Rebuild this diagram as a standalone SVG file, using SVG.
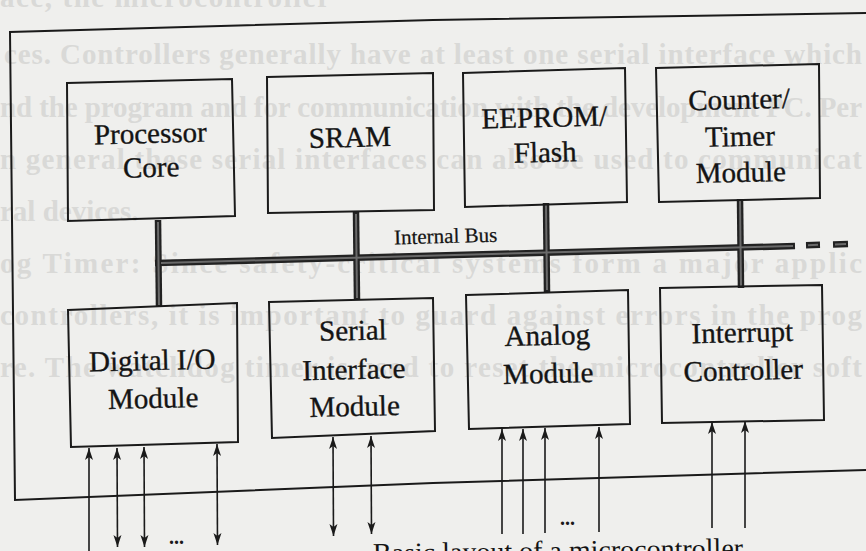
<svg xmlns="http://www.w3.org/2000/svg" width="866" height="551" viewBox="0 0 866 551">
  <style>
    .page { fill: #efefed; }
    .ghost { font-family: "Liberation Serif", "Times New Roman", serif; font-size: 29px; font-weight: bold; fill: #d9d9d7; }
    .frame { fill: none; stroke: #1a1a1a; stroke-width: 2; stroke-linejoin: miter; }
    .box { fill: none; stroke: #1a1a1a; stroke-width: 2; }
    .label { font-family: "Liberation Serif", "Times New Roman", serif; font-size: 29px; fill: #141414; stroke: #141414; stroke-width: 0.35; text-anchor: middle; }
    .buslabel { font-family: "Liberation Serif", "Times New Roman", serif; font-size: 21px; fill: #141414; stroke: #141414; stroke-width: 0.25; }
    .caption { font-family: "Liberation Serif", "Times New Roman", serif; font-size: 28px; fill: #141414; }
    .bus-outer { fill: none; stroke: #222; stroke-width: 6.5; }
    .bus-inner { fill: none; stroke: #6a6a6a; stroke-width: 2; }
    .sig { fill: none; stroke: #1a1a1a; stroke-width: 1.6; }
    .sig-in { marker-end: url(#head); }
    .sig-io { marker-start: url(#head); marker-end: url(#head); }
  </style>
  <defs>
    <marker id="head" markerUnits="userSpaceOnUse" markerWidth="13" markerHeight="9" viewBox="0 0 13 9" refX="12" refY="4.5" orient="auto-start-reverse">
      <path d="M0,0.5 L12,4.5 L0,8.5 L3,4.5 Z" fill="#1a1a1a"/>
    </marker>
  </defs>

  <rect class="page" x="0" y="0" width="866" height="551"/>

  <!-- text showing through from the reverse side of the sheet -->
  <g id="reverse-side-text" class="ghost">
    <text x="0" y="7" textLength="330" lengthAdjust="spacing">ace, the microcontroller</text>
    <text x="4" y="64" textLength="858" lengthAdjust="spacing">ces. Controllers generally have at least one serial interface which</text>
    <text x="0" y="117" textLength="862" lengthAdjust="spacing">nd the program and for communication with the development PC. Per</text>
    <text x="0" y="169" textLength="862" lengthAdjust="spacing">n general these serial interfaces can also be used to communicat</text>
    <text x="0" y="221">ral devices.</text>
    <text x="0" y="273" textLength="862" lengthAdjust="spacing">og Timer: Since safety-critical systems form a major applic</text>
    <text x="0" y="325" textLength="862" lengthAdjust="spacing">controllers, it is important to guard against errors in the prog</text>
    <text x="0" y="377" textLength="862" lengthAdjust="spacing">re. The watchdog timer is used to reset the microcontroller soft</text>
  </g>

  <!-- chip outline (right side runs off the sheet) -->
  <polyline id="chip-outline" class="frame" points="866,13 433,20 10,32 15,500 433,483 866,470"/>

  <!-- internal bus, stubs and external signal lines -->
  <g id="connectors">
    <g id="bus">
      <polyline class="bus-outer" points="155,263.1 795,246"/>
      <polyline class="bus-outer" points="158,220 159,307"/>
      <polyline class="bus-outer" points="356,212 357,300"/>
      <polyline class="bus-outer" points="546,203 547,292"/>
      <polyline class="bus-outer" points="740,199 741,288"/>
      <polyline class="bus-outer" points="806,245.2 820,244.8"/>
      <polyline class="bus-outer" points="833,244.5 848,244.1"/>
      <polyline class="bus-inner" points="161,262.9 793,246"/>
      <polyline class="bus-inner" points="158,222 159,305"/>
      <polyline class="bus-inner" points="356,214 357,298"/>
      <polyline class="bus-inner" points="546,205 547,290"/>
      <polyline class="bus-inner" points="740,201 741,286"/>
      <polyline class="bus-inner" points="808,245.2 818,244.8"/>
      <polyline class="bus-inner" points="835,244.5 846,244.1"/>
    </g>
    <g id="digital-io-lines">
      <line class="sig sig-in" x1="89" y1="556" x2="89" y2="448"/>
      <line class="sig sig-io" x1="117" y1="448" x2="117.5" y2="547"/>
      <line class="sig sig-io" x1="144" y1="447" x2="144.5" y2="547"/>
      <line class="sig sig-io" x1="217" y1="444" x2="217.5" y2="545"/>
    </g>
    <g id="serial-lines">
      <line class="sig sig-io" x1="333" y1="437" x2="333.5" y2="536"/>
      <line class="sig sig-io" x1="371" y1="436" x2="371.5" y2="534"/>
    </g>
    <g id="analog-lines">
      <line class="sig sig-in" x1="502" y1="534" x2="502" y2="429"/>
      <line class="sig sig-in" x1="523" y1="534" x2="523" y2="429"/>
      <line class="sig sig-in" x1="545" y1="533" x2="545" y2="428"/>
      <line class="sig sig-in" x1="599" y1="532" x2="599" y2="427"/>
    </g>
    <g id="interrupt-lines">
      <line class="sig sig-in" x1="712" y1="528" x2="712" y2="422"/>
      <line class="sig sig-in" x1="745" y1="528" x2="745" y2="421"/>
    </g>
    <g id="ellipses" font-family="Liberation Serif, serif" font-size="20" font-weight="bold" fill="#1a1a1a">
      <text x="169" y="544">...</text>
      <text x="560" y="525">...</text>
    </g>
    <text class="buslabel" x="394" y="243" transform="rotate(-1.5 447 236)">Internal Bus</text>
  </g>

  <g id="processor-core">
    <polygon class="box" points="67,83 232,79 235,216 68,221"/>
    <g transform="rotate(-1.4 151 160)">
      <text class="label" x="151" y="143">Processor</text>
      <text class="label" x="151" y="177">Core</text>
    </g>
  </g>

  <g id="sram">
    <polygon class="box" points="267,77 433,73 434,210 268,213"/>
    <text class="label" x="350" y="147" transform="rotate(-1.4 350 140)">SRAM</text>
  </g>

  <g id="eeprom-flash">
    <polygon class="box" points="463,73 625,68 627,202 465,207"/>
    <g transform="rotate(-1.4 545 145)">
      <text class="label" x="545" y="127">EEPROM/</text>
      <text class="label" x="545" y="162">Flash</text>
    </g>
  </g>

  <g id="counter-timer">
    <polygon class="box" points="656,68 819,64 820,198 659,202"/>
    <g transform="rotate(-1.4 740 140)">
      <text class="label" x="740" y="109">Counter/</text>
      <text class="label" x="740" y="146">Timer</text>
      <text class="label" x="740" y="182">Module</text>
    </g>
  </g>

  <g id="digital-io">
    <polygon class="box" points="68,310 237,303 238,442 71,447"/>
    <g transform="rotate(-1.4 153 390)">
      <text class="label" x="153" y="370">Digital I/O</text>
      <text class="label" x="153" y="408">Module</text>
    </g>
  </g>

  <g id="serial-interface">
    <polygon class="box" points="269,302 433,298 435,431 272,438"/>
    <g transform="rotate(-1.4 354 378)">
      <text class="label" x="354" y="340">Serial</text>
      <text class="label" x="354" y="379">Interface</text>
      <text class="label" x="354" y="416">Module</text>
    </g>
  </g>

  <g id="analog-module">
    <polygon class="box" points="466,295 628,290 630,424 469,429"/>
    <g transform="rotate(-1.4 548 364)">
      <text class="label" x="548" y="345">Analog</text>
      <text class="label" x="548" y="383">Module</text>
    </g>
  </g>

  <g id="interrupt-controller">
    <polygon class="box" points="660,288 822,285 824,420 662,423"/>
    <g transform="rotate(-1.4 743 361)">
      <text class="label" x="743" y="342">Interrupt</text>
      <text class="label" x="743" y="380">Controller</text>
    </g>
  </g>

  <text id="caption" class="caption" x="373" y="560" transform="rotate(-0.8 560 555)">Basic layout of a microcontroller</text>
</svg>
